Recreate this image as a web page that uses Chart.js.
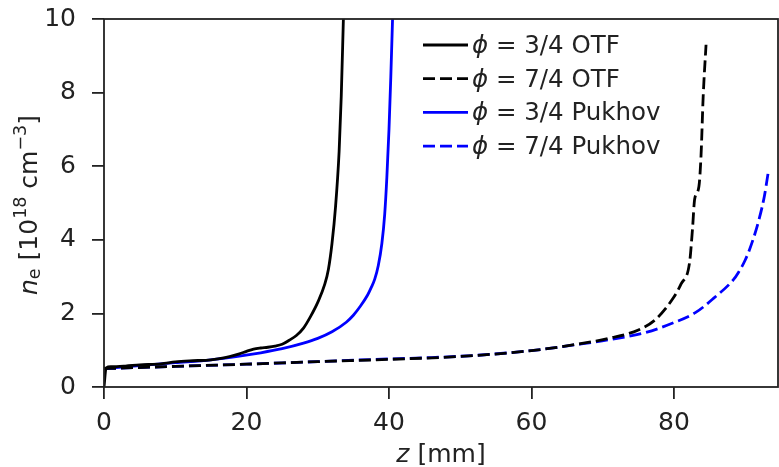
<!DOCTYPE html>
<html>
<head>
<meta charset="utf-8">
<script src="https://cdn.jsdelivr.net/npm/chart.js@4"></script>
<style>
  html, body { margin: 0; padding: 0; background: #fff; }
</style>
</head>
<body>
<canvas id="c" width="779" height="467"></canvas>
<script>
// phi = 3/4, OTF model (black solid)
var otf34Z  = [0, 0.3, 1, 3, 5, 8, 10, 12, 15, 17, 19, 20, 21, 22, 23, 24, 25, 26, 27, 28, 29, 30, 31, 31.5, 32, 32.5, 33, 33.3, 33.6];
var otf34Ne = [0, 0.52, 0.55, 0.57, 0.6, 0.63, 0.68, 0.71, 0.74, 0.8, 0.9, 0.97, 1.03, 1.06, 1.08, 1.11, 1.16, 1.27, 1.4, 1.6, 1.92, 2.3, 2.8, 3.2, 3.9, 4.9, 6.4, 7.9, 10];

// phi = 7/4, OTF model (black dashed)
var otf74Z  = [0, 10, 20, 30, 40, 50, 60, 66, 71, 75, 77.5, 79.8, 81, 82.2, 82.6, 82.9, 83.5, 83.8, 84.1, 84.5];
var otf74Ne = [0.5, 0.56, 0.62, 0.69, 0.75, 0.83, 0.99, 1.15, 1.33, 1.55, 1.85, 2.39, 2.8, 3.4, 4.3, 5.1, 5.45, 6.3, 7.9, 9.3];

// phi = 3/4, Pukhov model (blue solid)
var puk34Z  = [0, 5, 10, 15, 19, 22, 25, 28, 30, 32, 34, 35, 36, 37, 37.5, 38, 38.5, 39, 39.4, 39.7, 40, 40.25, 40.5];
var puk34Ne = [0.5, 0.58, 0.66, 0.74, 0.84, 0.93, 1.04, 1.19, 1.32, 1.5, 1.76, 1.95, 2.2, 2.5, 2.7, 2.93, 3.3, 3.9, 4.7, 5.7, 7.0, 8.4, 10];

// phi = 7/4, Pukhov model (blue dashed)
var puk74Z  = [0, 10, 20, 30, 38, 46, 53, 60, 67, 71, 76, 80, 83, 85.5, 88.4, 89, 90, 91, 92, 92.7, 93.2];
var puk74Ne = [0.5, 0.56, 0.62, 0.69, 0.75, 0.8, 0.87, 0.99, 1.17, 1.29, 1.48, 1.75, 2.02, 2.4, 2.93, 3.1, 3.45, 3.95, 4.6, 5.2, 5.8];

var legendNames = ['= 3/4 OTF', '= 7/4 OTF', '= 3/4 Pukhov', '= 7/4 Pukhov'];
var xTickValues = [0, 20, 40, 60, 80];
var yTickValues = [0, 2, 4, 6, 8, 10];

var FONT = 'DejaVu Sans';
var DASH = [12, 5];

function pts(zs, ns) {
  return zs.map(function(z, i) { return {x: z, y: ns[i]}; });
}

function drawRuns(ctx, runs, cx, cy) {
  var total = 0;
  runs.forEach(function(r) { ctx.font = r.font; r.w = ctx.measureText(r.t).width; total += r.w; });
  var x = cx - total / 2;
  runs.forEach(function(r) {
    ctx.font = r.font;
    ctx.fillText(r.t, x, cy + (r.dy || 0));
    x += r.w;
  });
}

function noPad(s) {
  s.paddingTop = 0; s.paddingBottom = 0; s.paddingLeft = 0; s.paddingRight = 0;
}

/* frame, legend and axis titles */
var decor = {
  id: 'decor',
  afterDatasetsDraw: function(chart) {
    var ctx = chart.ctx, a = chart.chartArea;
    ctx.save();
    ctx.strokeStyle = '#222';
    ctx.lineWidth = 1.8;
    ctx.strokeRect(a.left, a.top, a.right - a.left, a.bottom - a.top);
    ctx.restore();
  },
  afterDraw: function(chart) {
    var ctx = chart.ctx, a = chart.chartArea;
    ctx.save();
    ctx.fillStyle = '#222';
    ctx.textBaseline = 'middle';
    ctx.textAlign = 'left';

    // legend
    chart.data.datasets.forEach(function(ds, i) {
      var y = 45 + i * 33.7;
      ctx.save();
      ctx.strokeStyle = ds.borderColor;
      ctx.lineWidth = ds.borderWidth;
      ctx.setLineDash(ds.borderDash || []);
      ctx.beginPath();
      ctx.moveTo(423, y);
      ctx.lineTo(468, y);
      ctx.stroke();
      ctx.restore();
      ctx.font = 'italic 24.5px "' + FONT + '"';
      ctx.fillText('\u03D5', 472, y + 1.5);
      var w = ctx.measureText('\u03D5').width;
      ctx.font = '24.5px "' + FONT + '"';
      ctx.fillText(' ' + legendNames[i], 472 + w, y + 1.5);
    });

    // x title
    drawRuns(ctx, [
      {t: 'z', font: 'italic 25px "' + FONT + '"'},
      {t: ' [mm]', font: '25px "' + FONT + '"'}
    ], (a.left + a.right) / 2, 455);

    // y title
    ctx.translate(30, (a.top + a.bottom) / 2 + 2);
    ctx.rotate(-Math.PI / 2);
    drawRuns(ctx, [
      {t: 'n', font: 'italic 25px "' + FONT + '"'},
      {t: 'e', font: '17.5px "' + FONT + '"', dy: 5},
      {t: ' [10', font: '25px "' + FONT + '"'},
      {t: '18', font: '17.5px "' + FONT + '"', dy: -9},
      {t: ' cm', font: '25px "' + FONT + '"'},
      {t: '\u22123', font: '17.5px "' + FONT + '"', dy: -9},
      {t: ']', font: '25px "' + FONT + '"'}
    ], 0, 0);
    ctx.restore();
  }
};

function lineSet(label, zs, ns, color, dashed) {
  return {
    label: label,
    data: pts(zs, ns),
    borderColor: color,
    backgroundColor: color,
    borderWidth: 2.8,
    borderDash: dashed ? DASH : [],
    pointRadius: 0,
    fill: false,
    cubicInterpolationMode: 'monotone'
  };
}

Chart.defaults.font.family = FONT;

new Chart(document.getElementById('c'), {
  type: 'line',
  data: {
    datasets: [
      lineSet('phi = 3/4 OTF', otf34Z, otf34Ne, '#000000', false),
      lineSet('phi = 7/4 OTF', otf74Z, otf74Ne, '#000000', true),
      lineSet('phi = 3/4 Pukhov', puk34Z, puk34Ne, '#0000ff', false),
      lineSet('phi = 7/4 Pukhov', puk74Z, puk74Ne, '#0000ff', true)
    ]
  },
  options: {
    responsive: false,
    animation: false,
    devicePixelRatio: 1,
    layout: { padding: { top: 19, right: 1, left: 0, bottom: 0 } },
    plugins: { legend: { display: false }, tooltip: { enabled: false } },
    scales: {
      x: {
        type: 'linear',
        min: 0,
        max: 94.6,
        afterBuildTicks: function(s) { s.ticks = xTickValues.map(function(v) { return {value: v}; }); },
        afterFit: function(s) { s.height = 80; noPad(s); },
        border: { display: false },
        grid: { drawOnChartArea: false, drawTicks: true, tickLength: 12, color: '#222', lineWidth: 1.8 },
        ticks: { color: '#222', font: { size: 25 }, padding: 9, maxRotation: 0 }
      },
      y: {
        type: 'linear',
        min: 0,
        max: 10,
        afterBuildTicks: function(s) { s.ticks = yTickValues.map(function(v) { return {value: v}; }); },
        afterFit: function(s) { s.width = 104; noPad(s); },
        border: { display: false },
        grid: { drawOnChartArea: false, drawTicks: true, tickLength: 12, color: '#222', lineWidth: 1.8 },
        ticks: { color: '#222', font: { size: 25 }, padding: 16 }
      }
    }
  },
  plugins: [decor]
});
</script>
</body>
</html>
